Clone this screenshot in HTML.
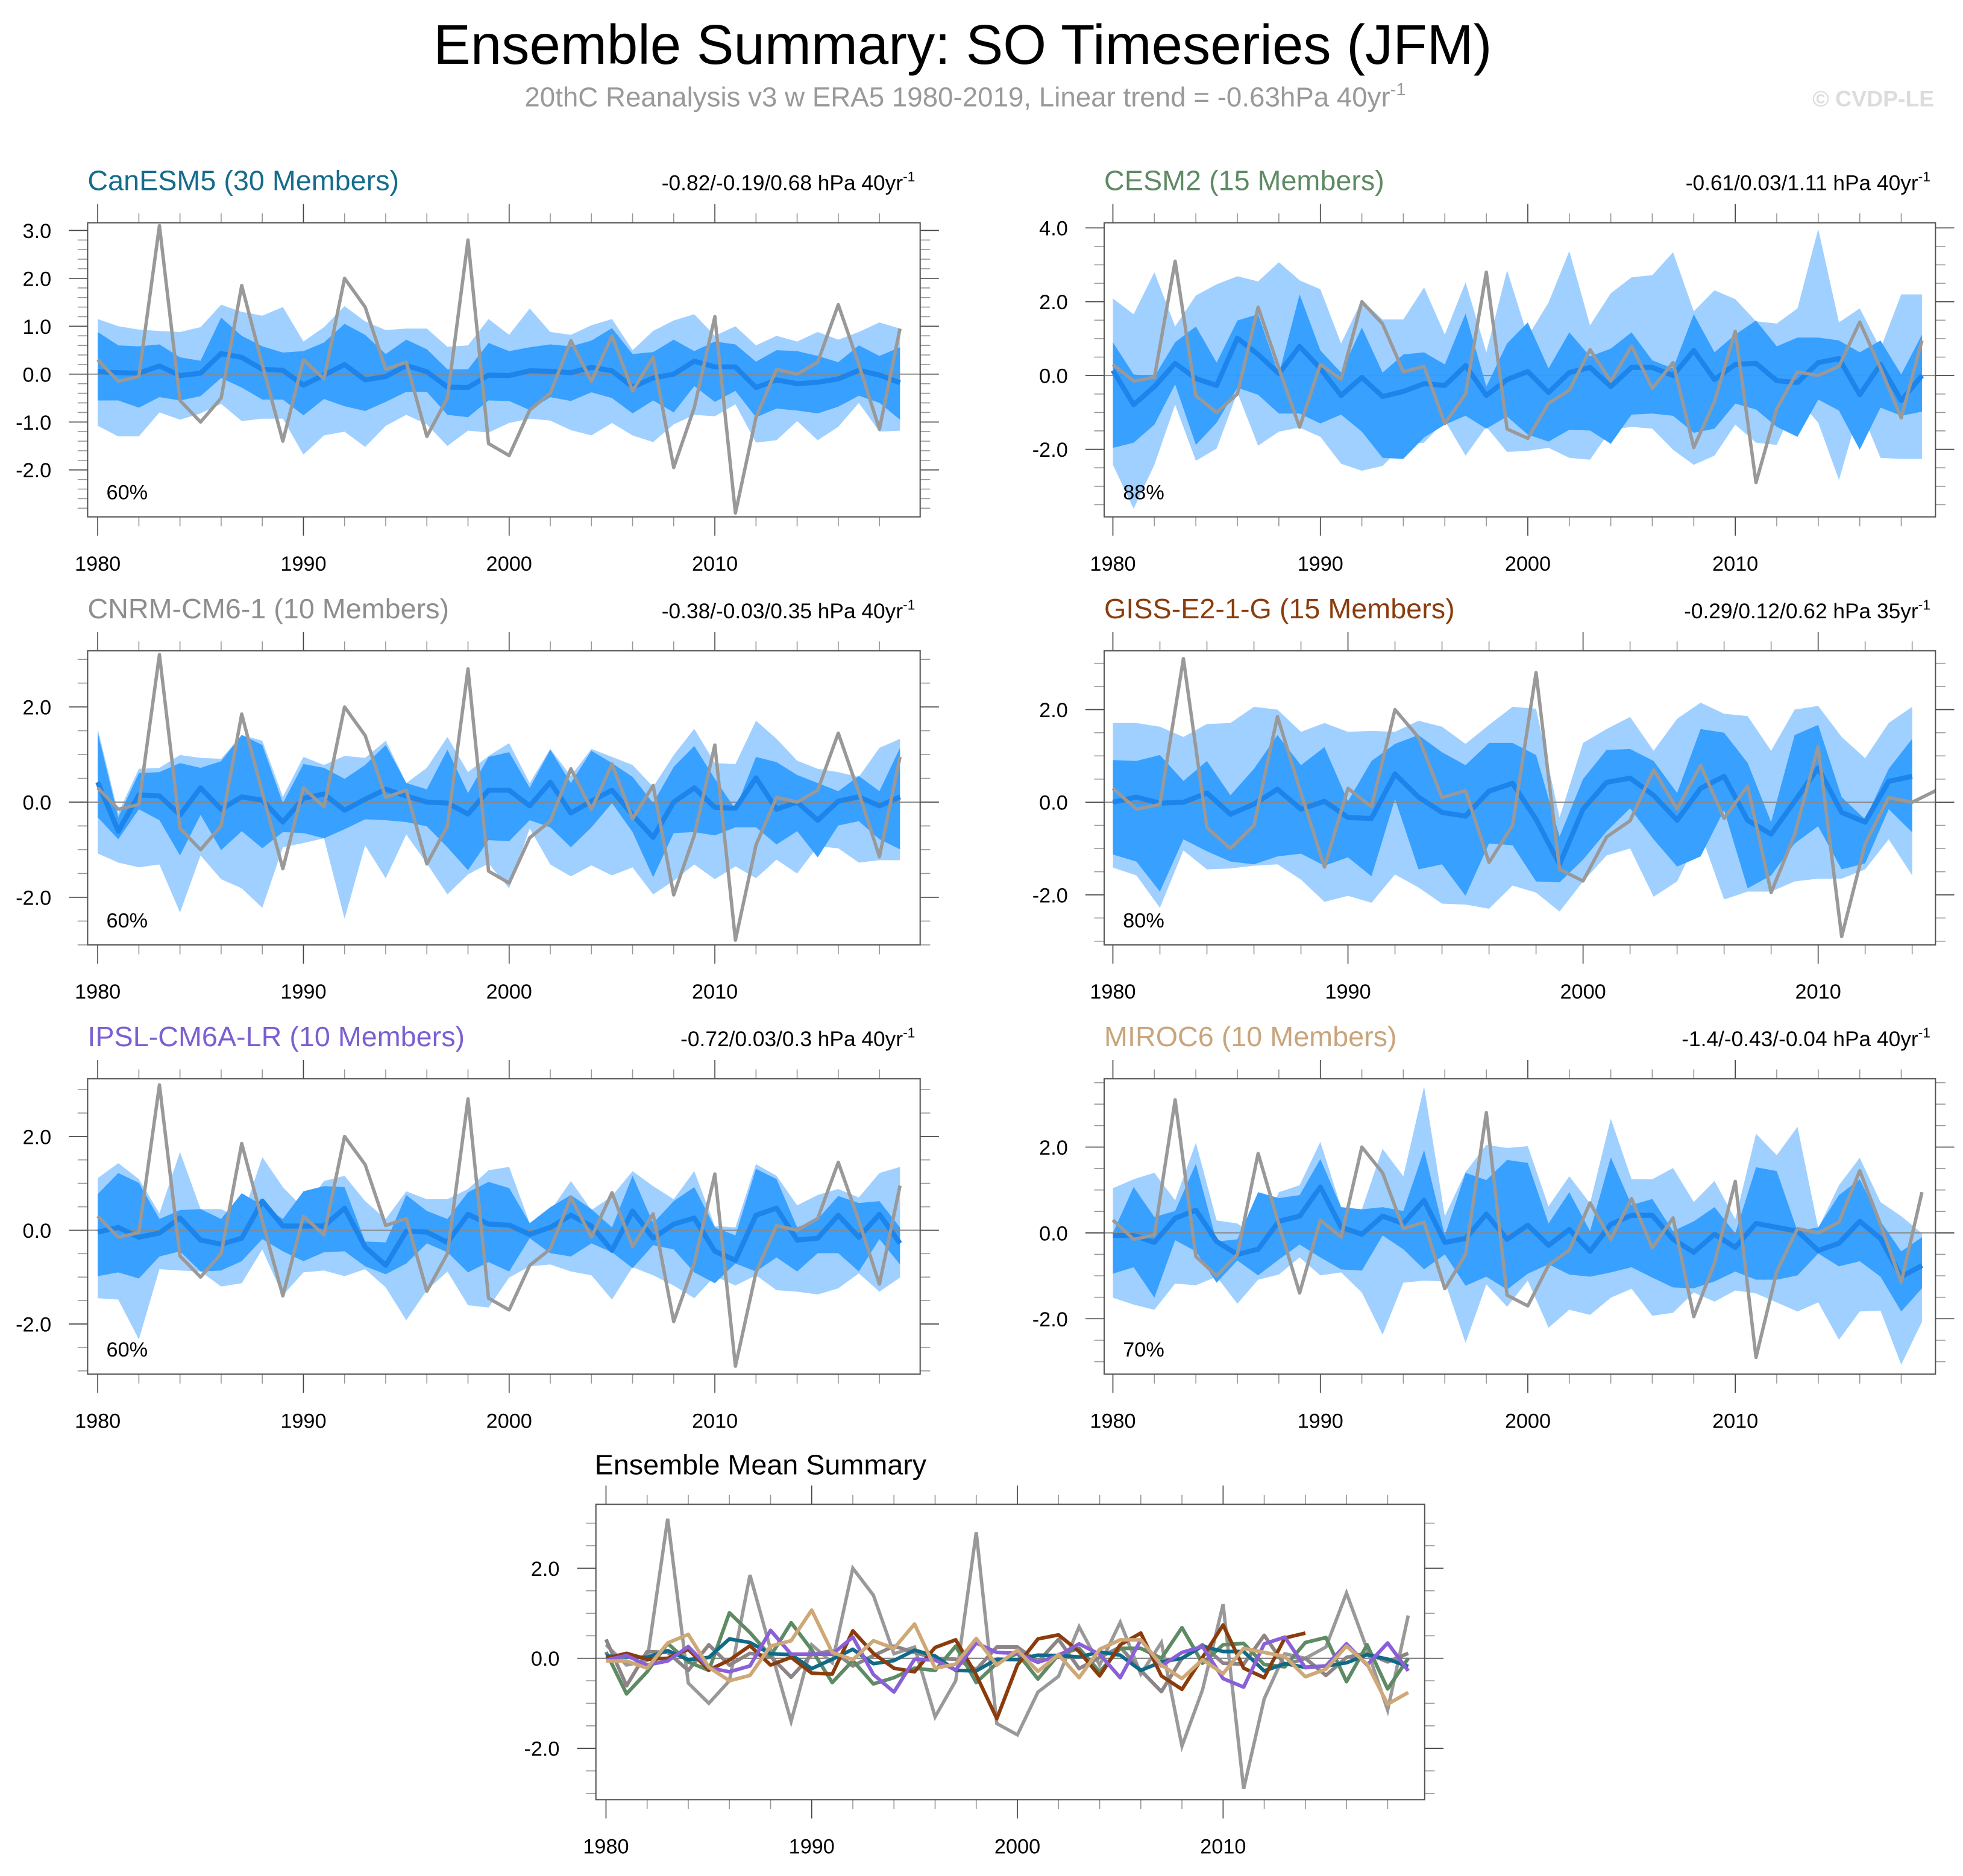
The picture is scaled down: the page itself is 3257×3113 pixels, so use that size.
<!DOCTYPE html>
<html><head><meta charset="utf-8">
<style>
html,body{margin:0;padding:0;background:#fff;}
svg{display:block;font-family:"Liberation Sans",sans-serif;}
</style></head>
<body>
<svg id="chart" xmlns="http://www.w3.org/2000/svg" width="3257" height="3113" viewBox="0 0 1568 1499" preserveAspectRatio="none">
<text x="769" y="51" font-size="44.5" text-anchor="middle" fill="#000">Ensemble Summary: SO Timeseries (JFM)</text>
<text x="771" y="85" font-size="22" text-anchor="middle" fill="#999">20thC Reanalysis v3 w ERA5 1980-2019, Linear trend = -0.63hPa 40yr<tspan font-size="14" dy="-9">-1</tspan></text>
<text x="1545" y="85" font-size="18" font-weight="bold" text-anchor="end" fill="#dcdcdc">© CVDP-LE</text>
</svg>
<script>
const obsValues = [0.30,-0.15,-0.05,3.10,-0.55,-1.00,-0.50,1.85,0.20,-1.40,0.30,-0.10,2.00,1.40,0.10,0.25,-1.30,-0.50,2.80,-1.45,-1.70,-0.75,-0.40,0.70,-0.15,0.80,-0.35,0.35,-1.95,-0.70,1.20,-2.90,-0.90,0.10,0.00,0.25,1.45,0.20,-1.15,0.95];
const xTickYears = [1980,1990,2000,2010];

const canMean = [0.05,0.03,0.02,0.17,-0.03,0.02,0.43,0.35,0.10,0.08,-0.23,-0.02,0.20,-0.12,-0.05,0.18,0.05,-0.27,-0.28,-0.02,-0.03,0.07,0.06,0.03,0.14,0.07,-0.27,-0.08,0.00,0.27,0.15,0.15,-0.28,-0.12,-0.20,-0.17,-0.10,0.08,-0.02,-0.18];
const canDarkHi = [0.88,0.60,0.58,0.62,0.35,0.28,1.18,0.80,0.58,0.45,0.48,0.66,1.05,0.82,0.42,0.72,0.52,0.10,0.10,0.65,0.48,0.56,0.62,0.58,0.70,0.96,0.42,0.46,0.72,0.48,0.68,0.62,0.26,0.50,0.48,0.38,0.25,0.60,0.38,0.56];
const canDarkLo = [-0.55,-0.55,-0.70,-0.48,-0.55,-0.46,-0.08,-0.28,-0.53,-0.53,-0.86,-0.52,-0.67,-0.77,-0.58,-0.37,-0.37,-0.85,-0.90,-0.55,-0.56,-0.75,-0.48,-0.56,-0.38,-0.50,-0.82,-0.55,-0.80,-0.25,-0.58,-0.35,-0.90,-0.72,-0.76,-0.82,-0.68,-0.45,-0.60,-0.95];
const canLightHi = [1.15,1.00,0.93,0.90,0.88,0.98,1.45,1.30,1.22,1.40,0.68,0.98,1.42,1.10,0.92,0.95,0.95,0.57,0.60,1.15,0.82,1.37,0.88,0.82,1.02,1.15,0.50,0.90,1.12,1.25,0.80,1.00,0.60,0.80,0.68,0.88,0.72,0.88,1.08,0.95];
const canLightLo = [-1.08,-1.30,-1.30,-0.80,-0.95,-0.82,-0.62,-0.98,-0.93,-0.93,-1.68,-1.28,-1.20,-1.52,-1.08,-0.85,-1.05,-1.50,-1.18,-1.22,-1.02,-0.93,-0.97,-1.17,-1.28,-1.02,-1.28,-1.42,-1.05,-0.85,-0.88,-0.63,-1.43,-1.38,-0.98,-1.38,-1.10,-0.60,-1.20,-1.18];

const cesmMean = [0.14,-0.79,-0.30,0.33,-0.08,-0.27,1.01,0.57,0.05,0.79,0.19,-0.54,-0.05,-0.57,-0.43,-0.22,-0.27,0.27,-0.54,-0.11,0.11,-0.46,0.08,0.22,-0.30,0.22,0.22,0.00,0.68,-0.11,0.30,0.33,-0.14,-0.19,0.35,0.46,-0.52,0.30,-0.68,0.00];
const cesmDarkHi = [0.90,0.03,-0.03,0.90,1.33,0.35,1.49,1.66,0.03,2.20,0.68,0.08,1.30,0.08,0.57,0.63,0.30,1.68,-0.30,0.87,1.44,0.19,1.17,0.52,0.73,1.17,0.41,0.19,1.66,0.63,1.11,1.49,0.79,1.03,1.03,0.95,0.63,0.95,0.03,1.11];
const cesmDarkLo = [-1.96,-1.82,-1.33,-0.24,-1.88,-1.28,-0.33,-0.52,-1.03,-1.03,-1.30,-1.06,-1.52,-2.23,-2.26,-1.68,-1.33,-1.09,-1.44,-1.11,-1.60,-1.79,-1.47,-1.49,-1.85,-1.06,-1.03,-1.09,-1.55,-1.44,-0.76,-0.92,-1.39,-1.66,-0.65,-0.95,-2.01,-0.87,-1.09,-0.98];
const cesmLightHi = [2.09,1.66,2.80,1.33,2.17,2.47,2.69,2.55,3.07,2.58,2.34,0.87,2.04,1.52,1.52,2.39,1.11,2.53,0.63,2.85,1.06,1.98,3.37,1.36,2.23,2.66,2.72,3.34,1.74,2.31,2.07,1.47,1.41,1.82,3.97,1.44,1.82,0.73,2.20,2.20];
const cesmLightLo = [-2.42,-3.61,-2.42,-0.79,-2.31,-1.98,-0.46,-1.90,-1.52,-1.41,-1.66,-2.39,-2.58,-2.45,-1.88,-1.82,-1.22,-2.17,-1.39,-2.07,-2.04,-1.96,-2.23,-2.28,-1.47,-1.39,-1.44,-2.01,-2.42,-2.17,-1.33,-1.82,-1.88,-0.63,-1.28,-2.83,-0.87,-2.23,-2.26,-2.26];

const cnrmMean = [0.42,-0.61,0.15,0.13,-0.27,0.30,-0.15,0.11,0.04,-0.42,0.08,0.17,-0.17,0.06,0.27,0.13,0.00,-0.02,-0.25,0.25,0.25,-0.08,0.42,-0.23,0.02,0.25,-0.27,-0.74,0.00,0.30,-0.11,-0.13,0.51,-0.15,0.00,-0.38,0.02,0.11,-0.08,0.11];
const cnrmDarkHi = [1.46,-0.32,0.61,0.63,0.82,0.72,0.86,1.41,1.20,-0.02,0.80,0.72,0.49,0.78,1.20,0.40,0.27,1.10,0.19,0.95,1.05,0.30,1.10,0.40,1.08,0.82,0.53,-0.02,0.74,1.18,0.49,-0.15,0.95,0.84,0.57,0.40,0.23,0.55,0.23,1.14];
const cnrmDarkLo = [-0.32,-0.78,-0.15,-0.38,-1.12,-0.27,-1.01,-0.61,-0.97,-0.63,-0.65,-0.76,-0.57,-0.36,-0.38,-0.42,-0.51,-0.95,-1.43,-0.80,-0.82,-0.38,-0.53,-0.95,-0.53,-0.02,-0.63,-1.58,-0.65,-0.63,-0.70,-0.53,-0.53,-0.89,-0.61,-1.16,-0.49,-0.40,-0.78,-0.99];
const cnrmLightHi = [1.54,-0.23,0.70,0.72,0.99,0.93,0.91,1.41,1.29,0.11,0.95,0.78,0.97,0.93,1.29,0.40,0.72,1.37,0.63,0.97,1.24,0.40,1.12,0.55,1.12,0.95,0.78,0.32,0.99,1.54,0.82,0.80,1.71,1.33,0.87,0.70,0.63,0.53,1.14,1.33];
const cnrmLightLo = [-1.08,-1.27,-1.37,-1.31,-2.32,-1.12,-1.62,-1.81,-2.22,-0.95,-0.86,-0.76,-2.45,-0.91,-1.60,-0.68,-1.29,-1.94,-1.52,-1.29,-1.81,-0.55,-1.31,-1.56,-1.33,-1.54,-1.37,-1.94,-1.65,-1.31,-1.62,-1.35,-1.60,-1.21,-1.50,-0.93,-0.97,-1.27,-1.22,-1.22];

const gissMean = [0.00,0.11,-0.02,0.00,0.20,-0.26,-0.04,0.28,-0.15,0.02,-0.33,-0.35,0.61,0.11,-0.22,-0.30,0.24,0.41,-0.37,-1.34,-0.15,0.43,0.52,0.15,-0.39,0.30,0.56,-0.39,-0.69,0.02,0.74,-0.22,-0.43,0.45,0.56];
const gissDarkHi = [0.91,0.89,1.02,0.46,0.89,0.15,0.72,1.45,0.80,1.19,0.02,0.89,1.26,1.45,1.08,0.80,1.28,1.28,1.02,-0.74,0.50,1.13,1.15,0.89,0.20,1.58,1.50,0.85,-0.43,1.45,1.67,0.11,-0.37,0.72,1.37];
const gissDarkLo = [-1.13,-1.28,-1.93,-0.80,-1.06,-1.28,-1.34,-1.17,-1.11,-1.37,-1.19,-1.60,0.07,-1.45,-1.34,-2.02,-0.89,-0.93,-1.71,-1.73,-1.24,-0.63,-0.13,-0.80,-1.39,-1.17,-0.17,-1.86,-1.58,-0.89,-0.52,-1.45,-1.32,-0.15,-0.65];
const gissLightHi = [1.71,1.71,1.63,1.41,1.69,1.71,2.06,2.00,1.52,1.71,1.52,1.54,1.52,1.76,1.63,1.26,1.67,2.06,2.02,-0.33,1.28,1.58,1.84,1.11,1.80,2.15,1.91,1.86,1.11,2.00,2.08,1.41,0.95,1.71,2.06];
const gissLightLo = [-1.41,-1.58,-2.28,-1.04,-1.45,-1.43,-1.37,-1.34,-1.67,-2.15,-2.02,-2.17,-1.56,-1.84,-2.19,-2.21,-2.30,-1.80,-1.95,-2.36,-1.71,-1.15,-1.00,-2.04,-1.71,-0.67,-2.10,-1.93,-1.93,-1.71,-1.65,-1.65,-1.45,-0.80,-1.58];

const ipslMean = [-0.04,0.06,-0.15,-0.06,0.26,-0.21,-0.30,-0.17,0.62,0.09,0.09,0.09,0.47,-0.36,-0.75,-0.02,-0.04,-0.26,0.34,0.13,0.11,-0.09,0.06,0.32,0.09,-0.43,0.41,-0.17,0.13,0.26,-0.45,-0.64,0.32,0.47,-0.21,-0.17,0.32,-0.15,0.34,-0.28];
const ipslDarkHi = [0.77,1.22,1.01,0.24,0.43,0.45,0.24,0.79,0.53,0.24,0.83,0.94,0.92,-0.24,-0.26,0.75,0.41,0.24,0.81,1.03,0.90,0.15,0.49,0.75,0.45,0.06,1.16,0.15,0.62,0.92,0.06,-0.11,1.31,1.09,0.06,0.24,0.73,0.58,0.62,0.06];
const ipslDarkLo = [-0.98,-0.90,-1.03,-0.56,-0.45,-0.88,-0.86,-0.66,-0.19,-0.45,-0.66,-0.47,-0.45,-0.77,-0.94,-0.71,-0.28,-0.47,-0.90,-0.68,-0.88,-0.17,-0.49,-0.56,-0.28,-0.47,-0.81,-0.32,-0.41,-0.90,-1.13,-0.71,-0.88,-0.58,-0.88,-0.49,-0.49,-0.88,-0.19,-0.73];
const ipslLightHi = [1.11,1.43,1.09,0.36,1.67,0.45,0.45,0.24,1.56,0.92,0.47,1.05,1.16,0.62,0.24,0.83,0.66,0.66,0.88,1.28,1.35,0.15,0.41,1.05,0.43,0.73,1.26,0.94,0.66,1.26,0.09,0.06,1.41,1.16,0.53,0.75,0.88,0.70,1.22,1.35];
const ipslLightLo = [-1.45,-1.48,-2.33,-0.83,-0.86,-0.88,-1.20,-1.13,-0.41,-1.39,-0.90,-0.86,-0.98,-0.83,-1.22,-1.92,-1.28,-0.88,-1.60,-1.65,-1.01,-0.77,-0.73,-0.88,-0.96,-1.48,-0.79,-0.96,-1.18,-1.45,-0.98,-1.18,-0.96,-1.28,-1.31,-1.37,-1.24,-0.92,-1.31,-1.01];

const mirocMean = [-0.06,-0.06,-0.22,0.34,0.53,-0.20,-0.50,-0.38,0.27,0.39,1.07,0.13,-0.03,0.39,0.22,0.76,-0.22,-0.13,0.44,-0.15,0.18,-0.29,0.08,-0.43,0.20,0.41,0.41,-0.15,-0.45,-0.03,-0.34,0.22,0.13,0.04,-0.41,-0.24,0.27,-0.13,-1.02,-0.76];
const mirocDarkHi = [0.00,1.07,0.37,0.51,1.61,-0.20,-0.15,0.95,0.81,0.88,1.72,0.60,0.55,0.60,0.51,1.93,-0.06,1.40,1.23,1.70,1.63,0.22,0.95,0.04,1.76,0.65,0.79,0.04,0.27,0.60,-0.01,1.53,1.44,0.04,0.13,0.88,1.25,0.27,-0.43,-0.10];
const mirocDarkLo = [-0.95,-0.80,-1.51,-0.17,-0.43,-1.16,-0.64,-0.99,-0.62,-0.27,-0.57,-0.85,-0.88,-0.06,-0.38,-0.85,-0.50,-1.23,-1.02,-1.32,-0.95,-0.73,-0.97,-1.02,-0.92,-0.80,-1.04,-1.27,-1.29,-1.13,-0.90,-1.09,-1.09,-0.99,-0.48,-0.78,-0.66,-1.02,-1.83,-1.29];
const mirocLightHi = [1.04,1.25,1.40,0.76,2.10,0.29,0.22,-0.13,0.95,1.11,2.12,0.60,0.55,1.96,1.32,3.41,0.39,1.42,2.05,1.98,2.02,0.62,1.32,0.69,2.66,1.25,1.25,1.51,0.72,1.21,0.32,2.31,1.81,2.47,0.11,1.11,1.75,0.72,0.39,-0.01];
const mirocLightLo = [-1.51,-1.67,-1.79,-1.18,-1.22,-1.02,-1.65,-1.09,-0.97,-0.57,-0.99,-0.92,-1.39,-2.37,-1.16,-1.11,-1.13,-2.56,-1.20,-1.72,-1.11,-2.21,-1.79,-1.91,-1.51,-1.30,-1.93,-1.86,-1.39,-1.60,-1.34,-1.41,-1.62,-1.83,-1.62,-2.49,-1.83,-1.81,-3.07,-2.07];

const NS = "http://www.w3.org/2000/svg";
const svg = document.getElementById('chart');
function mk(tag, parent) { const e = document.createElementNS(NS, tag); parent.appendChild(e); return e; }
function setA(e, o) { for (const k in o) e.setAttribute(k, o[k]); return e; }
function ptsStr(arr, sx, sy) { return arr.map((v, i) => sx(1980 + i).toFixed(2) + ',' + sy(v).toFixed(2)).join(' '); }

let clipId = 0;
function makeAxes(p, g) {
  const sx = yr => p.x0 + (yr - p.xmin) / (p.xmax - p.xmin) * (p.x1 - p.x0);
  const sy = v => p.y1 - (v - p.ymin) / (p.ymax - p.ymin) * (p.y1 - p.y0);
  for (let yr = 1980; yr <= p.xmax; yr += 2) {
    const major = (yr % 10 === 0);
    const L = major ? 15 : 7.5;
    const x = sx(yr);
    const t1 = mk('line', g);
    setA(t1, {x1: x, x2: x, y1: p.y1, y2: p.y1 + L, stroke: major ? '#444' : '#999', 'stroke-width': 0.8});
    
    
    const t2 = mk('line', g);
    setA(t2, {x1: x, x2: x, y1: p.y0, y2: p.y0 - L, stroke: major ? '#444' : '#999', 'stroke-width': 0.8});
    
    
  }
  xTickYears.forEach(yr => {
    const t = mk('text', g);
    setA(t, {x: sx(yr), y: p.y1 + 43, 'font-size': 16.5, 'text-anchor': 'middle', fill: '#000'});
    t.textContent = yr;
    
    
  });
  const start = Math.ceil(p.ymin / p.minor - 1e-6);
  const end = Math.floor(p.ymax / p.minor + 1e-6);
  for (let k = start; k <= end; k++) {
    const v = k * p.minor;
    const major = Math.abs(v / p.major - Math.round(v / p.major)) < 1e-6;
    const L = major ? 15 : 8;
    const y = sy(v);
    const a = mk('line', g);
    setA(a, {x1: p.x0, x2: p.x0 - L, y1: y, y2: y, stroke: major ? '#444' : '#999', 'stroke-width': 0.8});
    
    
    const b = mk('line', g);
    setA(b, {x1: p.x1, x2: p.x1 + L, y1: y, y2: y, stroke: major ? '#444' : '#999', 'stroke-width': 0.8});
    
    
  }
  p.yLabels.forEach(v => {
    const t = mk('text', g);
    setA(t, {x: p.x0 - 29, y: sy(v) + 6, 'font-size': 16.5, 'text-anchor': 'end', fill: '#000'});
    t.textContent = v.toFixed(1);
    
    
  });
  return {sx, sy};
}

function clipFor(p) {
  clipId++;
  const cp = mk('clipPath', svg);
  cp.setAttribute('id', 'clip' + clipId);
  const r = mk('rect', cp);
  setA(r, {x: p.x0, y: p.y0, width: p.x1 - p.x0, height: p.y1 - p.y0});
  return 'url(#clip' + clipId + ')';
}

function drawPanel(p) {
  const g = mk('g', svg);
  
  
  const {sx, sy} = makeAxes(p, g);
  const cg = mk('g', g);
  cg.setAttribute('clip-path', clipFor(p));
  const light = mk('polygon', cg);
  setA(light, {points: ptsStr(p.lHi, sx, sy) + ' ' + ptsStr(p.lLo, sx, sy).split(' ').reverse().join(' '), fill: '#a0d0ff'});
  
  
  const dark = mk('polygon', cg);
  setA(dark, {points: ptsStr(p.dHi, sx, sy) + ' ' + ptsStr(p.dLo, sx, sy).split(' ').reverse().join(' '), fill: '#38a0ff'});
  
  
  const zero = mk('line', cg);
  setA(zero, {x1: p.x0, x2: p.x1, y1: sy(0), y2: sy(0), stroke: '#888', 'stroke-width': 0.9});
  
  
  const mean = mk('polyline', cg);
  setA(mean, {points: ptsStr(p.mean, sx, sy), fill: 'none', stroke: '#1c84ea', 'stroke-width': 4, 'stroke-linejoin': 'round'});
  
  
  const obs = mk('polyline', cg);
  setA(obs, {points: ptsStr(obsValues, sx, sy), fill: 'none', stroke: '#999', 'stroke-width': 2.7, 'stroke-linejoin': 'round'});
  
  
  const box = mk('rect', g);
  setA(box, {x: p.x0, y: p.y0, width: p.x1 - p.x0, height: p.y1 - p.y0, fill: 'none', stroke: '#555', 'stroke-width': 1});
  
  
  const title = mk('text', g);
  setA(title, {x: p.x0, y: p.y0 - 26, 'font-size': 22.5, fill: p.color});
  title.textContent = p.name;
  
  
  const st = mk('text', g);
  setA(st, {x: p.x1 - 4, y: p.y0 - 26, 'font-size': 17, 'text-anchor': 'end', fill: '#000'});
  st.textContent = p.stats;
  const sup = mk('tspan', st);
  setA(sup, {'font-size': 11, dy: -7});
  sup.textContent = '-1';
  
  
  const pc = mk('text', g);
  setA(pc, {x: p.x0 + 15, y: p.y1 - 14, 'font-size': 16.5, fill: '#000'});
  pc.textContent = p.pct;
  
  
}

const L = {x0: 70, x1: 735, xmin: 1979.51, xmax: 2019.98};
const R = {x0: 882, x1: 1546, xmin: 1979.58, xmax: 2019.65};

drawPanel(Object.assign({}, L, {id: 'panel-canesm5', y0: 178, y1: 413, ymin: -2.98, ymax: 3.16, major: 1, minor: 0.2, yLabels: [3, 2, 1, 0, -1, -2], name: 'CanESM5 (30 Members)', color: '#156c8c', stats: '-0.82/-0.19/0.68 hPa 40yr', pct: '60%', mean: canMean, dHi: canDarkHi, dLo: canDarkLo, lHi: canLightHi, lLo: canLightLo}));
drawPanel(Object.assign({}, R, {id: 'panel-cesm2', y0: 178, y1: 413, ymin: -3.83, ymax: 4.14, major: 2, minor: 0.5, yLabels: [4, 2, 0, -2], name: 'CESM2 (15 Members)', color: '#5e8a64', stats: '-0.61/0.03/1.11 hPa 40yr', pct: '88%', mean: cesmMean, dHi: cesmDarkHi, dLo: cesmDarkLo, lHi: cesmLightHi, lLo: cesmLightLo}));
drawPanel(Object.assign({}, L, {id: 'panel-cnrm', y0: 520, y1: 755, ymin: -3.0, ymax: 3.18, major: 2, minor: 0.5, yLabels: [2, 0, -2], name: 'CNRM-CM6-1 (10 Members)', color: '#8e8e8e', stats: '-0.38/-0.03/0.35 hPa 40yr', pct: '60%', mean: cnrmMean, dHi: cnrmDarkHi, dLo: cnrmDarkLo, lHi: cnrmLightHi, lLo: cnrmLightLo}));
drawPanel({id: 'panel-giss', x0: 882, x1: 1546, xmin: 1979.63, xmax: 2014.99, y0: 520, y1: 755, ymin: -3.08, ymax: 3.27, major: 2, minor: 0.5, yLabels: [2, 0, -2], name: 'GISS-E2-1-G (15 Members)', color: '#8b3c0c', stats: '-0.29/0.12/0.62 hPa 35yr', pct: '80%', mean: gissMean, dHi: gissDarkHi, dLo: gissDarkLo, lHi: gissLightHi, lLo: gissLightLo});
drawPanel(Object.assign({}, L, {id: 'panel-ipsl', y0: 862, y1: 1098, ymin: -3.07, ymax: 3.23, major: 2, minor: 0.5, yLabels: [2, 0, -2], name: 'IPSL-CM6A-LR (10 Members)', color: '#7b5fd2', stats: '-0.72/0.03/0.3 hPa 40yr', pct: '60%', mean: ipslMean, dHi: ipslDarkHi, dLo: ipslDarkLo, lHi: ipslLightHi, lLo: ipslLightLo}));
drawPanel(Object.assign({}, R, {id: 'panel-miroc6', y0: 862, y1: 1098, ymin: -3.29, ymax: 3.59, major: 2, minor: 0.5, yLabels: [2, 0, -2], name: 'MIROC6 (10 Members)', color: '#c9a57c', stats: '-1.4/-0.43/-0.04 hPa 40yr', pct: '70%', mean: mirocMean, dHi: mirocDarkHi, dLo: mirocDarkLo, lHi: mirocLightHi, lLo: mirocLightLo}));

const summaryModels = [cnrmMean, cesmMean, canMean, gissMean, ipslMean, mirocMean];
const summaryColors = ['#8c8486', '#5e8a64', '#0f6a88', '#8b3c0c', '#8a60d8', '#cfa878'];
(function () {
  const p = {id: 'panel-ensemble-mean-summary', x0: 476, x1: 1138, y0: 1202, y1: 1438, xmin: 1979.51, xmax: 2019.8, ymin: -3.14, ymax: 3.42, major: 2, minor: 0.5, yLabels: [2, 0, -2]};
  const g = mk('g', svg);
  
  
  const {sx, sy} = makeAxes(p, g);
  const cg = mk('g', g);
  cg.setAttribute('clip-path', clipFor(p));
  const zero = mk('line', cg);
  setA(zero, {x1: p.x0, x2: p.x1, y1: sy(0), y2: sy(0), stroke: '#777', 'stroke-width': 1});
  
  
  const obs = mk('polyline', cg);
  setA(obs, {points: ptsStr(obsValues, sx, sy), fill: 'none', stroke: '#999', 'stroke-width': 2.7});
  
  
  summaryModels.forEach((arr, i) => {
    const l = mk('polyline', cg);
    setA(l, {points: ptsStr(arr, sx, sy), fill: 'none', stroke: summaryColors[i], 'stroke-width': 2.9, 'stroke-linejoin': 'round'});
    
    
  });
  const box = mk('rect', g);
  setA(box, {x: p.x0, y: p.y0, width: p.x1 - p.x0, height: p.y1 - p.y0, fill: 'none', stroke: '#555', 'stroke-width': 1});
  
  
  const t = mk('text', g);
  setA(t, {x: 475, y: 1178, 'font-size': 22.5, fill: '#000'});
  t.textContent = 'Ensemble Mean Summary';
  
  
})();
</script>
</body></html>
